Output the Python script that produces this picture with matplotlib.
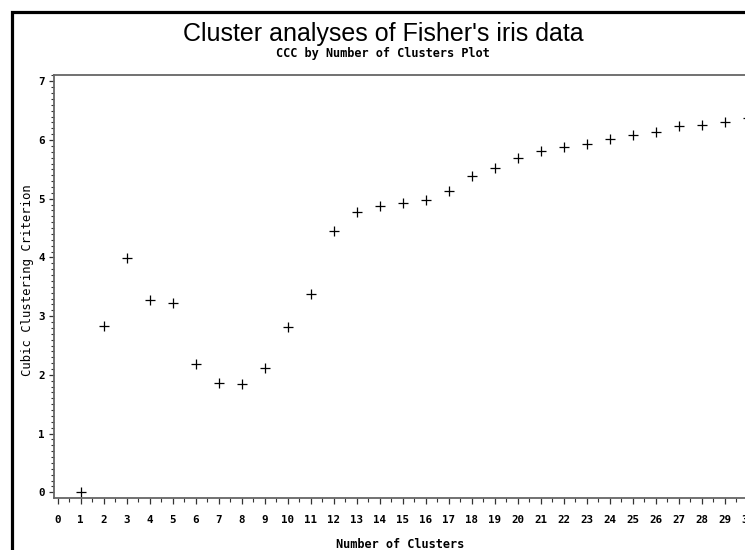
"""CCC by number of clusters plot for Fisher's iris data."""

import matplotlib
matplotlib.use("Agg")
import matplotlib.pyplot as plt
from matplotlib.lines import Line2D
from matplotlib.ticker import MultipleLocator

# number of clusters and the cubic clustering criterion
clusters = list(range(1, 31))
ccc = [0.00, 2.84, 3.99, 3.27, 3.23, 2.19, 1.86, 1.84, 2.12, 2.81,
       3.37, 4.45, 4.77, 4.87, 4.93, 4.98, 5.14, 5.39, 5.53, 5.69,
       5.81, 5.89, 5.94, 6.01, 6.08, 6.14, 6.24, 6.26, 6.31, 6.38]
x_ticks = list(range(0, 31))
y_ticks = list(range(0, 8))

W, H = 745, 550
fig = plt.figure(figsize=(W / 100, H / 100), dpi=100)
fig.patch.set_facecolor("white")

# axes frame in pixels: left 54, top 75, bottom 498, runs past the right edge
left, top, bottom, right = 54.3, 74.7, 497.7, 759.2
ax = fig.add_axes([left / W, 1 - bottom / H, (right - left) / W, (bottom - top) / H])

ax.plot(clusters, ccc, linestyle="none", marker="+", color="black",
        markersize=7.5, markeredgewidth=0.9, clip_on=False)

ax.set_xlim(-0.148, 30.5)
ax.set_ylim(-0.092, 7.113)

ax.set_xticks(x_ticks)
ax.set_yticks(y_ticks)
ax.xaxis.set_minor_locator(MultipleLocator(0.5))
ax.yaxis.set_minor_locator(MultipleLocator(0.1))

tick_font = dict(family="DejaVu Sans Mono", weight="bold", size=7.8)
ax.set_xticklabels([str(v) for v in x_ticks], **tick_font)
ax.set_yticklabels([str(v) for v in y_ticks], **tick_font)

ax.tick_params(axis="x", which="major", direction="out", length=4.5, width=0.9,
               pad=8, color="#333333")
ax.tick_params(axis="x", which="minor", direction="out", length=3, width=0.8,
               color="#333333")
ax.tick_params(axis="y", which="major", direction="out", length=3.5, width=0.9,
               pad=3.5, color="#333333")
ax.tick_params(axis="y", which="minor", direction="out", length=2.4, width=0.8,
               color="#333333")

for side in ["left", "bottom", "top", "right"]:
    ax.spines[side].set_color("#666666")
    ax.spines[side].set_linewidth(1.3)

# titles and axis labels
fig.text(383 / W, 1 - 41 / H, "Cluster analyses of Fisher's iris data",
         family="Liberation Sans", size=18, ha="center", va="baseline")
fig.text(383 / W, 1 - 53.5 / H, "CCC by Number of Clusters Plot",
         family="DejaVu Sans Mono", weight="bold", size=8.6,
         ha="center", va="center")
fig.text(400 / W, 1 - 544 / H, "Number of Clusters",
         family="DejaVu Sans Mono", weight="bold", size=8.6,
         ha="center", va="center")
fig.text(28 / W, 1 - 280 / H, "Cubic Clustering Criterion",
         family="DejaVu Sans Mono", size=8.8, rotation=90,
         ha="center", va="center")

# thick outer border on the left and top
bx, by = 11.5 / W, 1 - 11.5 / H
fig.add_artist(Line2D([bx, bx, 1], [0, by, by], color="black", linewidth=2.3,
                      transform=fig.transFigure, solid_joinstyle="miter"))

fig.savefig("out.png", dpi=100)
